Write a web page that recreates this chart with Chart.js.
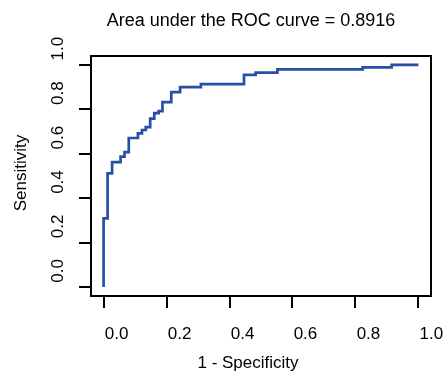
<!DOCTYPE html>
<html>
<head>
<meta charset="utf-8">
<script src="https://cdn.jsdelivr.net/npm/chart.js@4/dist/chart.umd.min.js"></script>
<style>
  html, body { margin: 0; padding: 0; background: #fff; }
  canvas { display: block; }
</style>
</head>
<body>
<canvas id="c" width="445" height="376"></canvas>
<script>
// ---- data ----
const fpr = [0, 0, 0.0127, 0.027, 0.054, 0.0665, 0.080, 0.109, 0.122, 0.134, 0.148, 0.161, 0.175, 0.187, 0.215, 0.243, 0.309, 0.446, 0.483, 0.552, 0.823, 0.915, 1.0];
const tpr = [0, 0.309, 0.512, 0.562, 0.587, 0.607, 0.671, 0.692, 0.707, 0.720, 0.758, 0.783, 0.792, 0.832, 0.877, 0.900, 0.913, 0.955, 0.965, 0.980, 0.989, 1.0, 1.0];
const xTicks = [0, 0.2, 0.4, 0.6, 0.8, 1.0];
const yTicks = [0, 0.2, 0.4, 0.6, 0.8, 1.0];
const tickLabels = ['0.0', '0.2', '0.4', '0.6', '0.8', '1.0'];
const titleText = 'Area under the ROC curve = 0.8916';
const xTitle = '1 - Specificity';
const yTitle = 'Sensitivity';

const FONT = '"Liberation Sans", Arial, Helvetica, sans-serif';
const points = fpr.map((x, i) => ({ x: x, y: tpr[i] }));

const labelFor = (v) => {
  const i = xTicks.findIndex(t => Math.abs(t - v) < 1e-9);
  return i >= 0 ? tickLabels[i] : '';
};

const frameAndText = {
  id: 'frameAndText',
  afterDraw(chart) {
    const { ctx, chartArea: a } = chart;
    ctx.save();
    ctx.strokeStyle = '#000';
    ctx.lineWidth = 2;
    ctx.strokeRect(a.left, a.top, a.right - a.left, a.bottom - a.top);
    ctx.fillStyle = '#000';
    ctx.textAlign = 'center';
    ctx.textBaseline = 'middle';
    ctx.font = '18px ' + FONT;
    ctx.fillText(titleText, 251, 21);
    ctx.font = '17px ' + FONT;
    ctx.fillText(xTitle, 248, 363);
    ctx.translate(21, 173);
    ctx.rotate(-Math.PI / 2);
    ctx.fillText(yTitle, 0, 0);
    ctx.restore();
  }
};

new Chart(document.getElementById('c'), {
  type: 'line',
  data: {
    datasets: [{
      data: points,
      borderColor: 'rgb(38,79,165)',
      borderWidth: 2.7,
      pointRadius: 0,
      tension: 0,
      stepped: 'before',
      fill: false
    }]
  },
  options: {
    responsive: false,
    animation: false,
    devicePixelRatio: 1,
    layout: { padding: { left: 0, right: 14, top: 56, bottom: 0 } },
    plugins: { legend: { display: false }, title: { display: false }, tooltip: { enabled: false } },
    scales: {
      x: {
        type: 'linear',
        min: -0.04, max: 1.04,
        afterBuildTicks: (s) => { s.ticks = xTicks.map(v => ({ value: v })); },
        afterFit: (s) => { s.height = 80; s.paddingLeft = 0; s.paddingRight = 0; },
        border: { display: false },
        grid: { display: true, drawOnChartArea: false, drawTicks: true, tickLength: 12, color: '#000', lineWidth: 2 },
        ticks: {
          callback: (v) => labelFor(v),
          color: '#000', font: { family: FONT, size: 17 },
          padding: 16, labelOffset: 13, maxRotation: 0, minRotation: 0, autoSkip: false
        }
      },
      y: {
        type: 'linear',
        min: -0.04, max: 1.04,
        afterBuildTicks: (s) => { s.ticks = yTicks.map(v => ({ value: v })); },
        afterFit: (s) => { s.width = 91; s.paddingTop = 0; s.paddingBottom = 0; },
        border: { display: false },
        grid: { display: true, drawOnChartArea: false, drawTicks: true, tickLength: 12, color: '#000', lineWidth: 2 },
        ticks: {
          callback: (v) => labelFor(v),
          color: '#000', font: { family: FONT, size: 17 },
          padding: 21, labelOffset: -28, minRotation: 90, maxRotation: 90, autoSkip: false
        }
      }
    }
  },
  plugins: [frameAndText]
});
</script>
</body>
</html>
